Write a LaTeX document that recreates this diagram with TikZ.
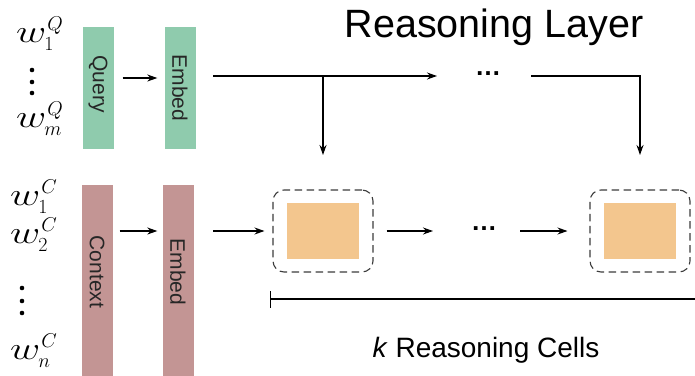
\RequirePackage{fix-cm}
\documentclass[tikz,border=0pt]{standalone}
\usepackage{fontspec}
\usepackage{graphicx}
\setmainfont{Liberation Sans}
\usetikzlibrary{arrows.meta}
\definecolor{qgreen}{HTML}{8FCBAD}
\definecolor{crose}{HTML}{C39594}
\definecolor{cellorange}{HTML}{F3C68E}
\definecolor{boxgray}{HTML}{3C3C3C}
% word symbol with stacked sub- and superscript
\newcommand\wlab[2]{%
  {\fontsize{32}{32}\selectfont\scalebox{1.3}[1]{$w$}}%
  \rlap{\smash{\raisebox{12pt}{\fontsize{20}{20}\selectfont\kern1pt$#2$}}}%
  \smash{\raisebox{-8pt}{\fontsize{20}{20}\selectfont\kern-2pt$#1$}}}
\begin{document}
\begin{tikzpicture}[x=1pt,y=-1pt,
  arr/.style={line width=1.1pt, -{Stealth[length=10pt,width=7pt]}},
  plain/.style={line width=1.1pt},
  vbar/.style={inner sep=0pt, minimum width=31pt},
  bartext/.style={rotate=-90, font=\fontsize{21}{21}\selectfont, text=black!85},
  cellbox/.style={draw=boxgray, line width=1.1pt, dashed, dash pattern=on 7.5pt off 4.5pt,
    rounded corners=11pt, minimum width=100pt, minimum height=82pt, inner sep=0pt},
  cellcore/.style={fill=cellorange, minimum width=72pt, minimum height=56pt, inner sep=0pt},
  wlabel/.style={anchor=base west, inner sep=0pt},
  ellip/.style={inner sep=0pt, font=\fontsize{26}{26}\selectfont\bfseries},
  vdot/.style={radius=2.3pt}]
\useasboundingbox (0,0) rectangle (695,375);

% query branch: input bar and its embedding
\node[vbar, fill=qgreen, minimum height=122pt] (query) at (98,88) {};
\node[bartext] (querytxt) at (98,84) {Query};
\node[vbar, fill=qgreen, minimum height=122pt] (qembed) at (180,88) {};
\node[bartext] (qembedtxt) at (180,88) {Embed};

% context branch: bars run past the lower edge
\node[vbar, fill=crose, minimum height=200pt] (context) at (97,285) {};
\node[bartext] (contexttxt) at (97,272) {Context};
\node[vbar, fill=crose, minimum height=200pt] (cembed) at (178,285) {};
\node[bartext] (cembedtxt) at (178,272) {Embed};

% word labels
\node[wlabel] (wq1) at (16,42) {\wlab{1}{Q}};
\node[wlabel] (wqm) at (16,127) {\wlab{m}{Q}};
\fill[vdot] (32,70) circle; \fill[vdot] (32,82) circle; \fill[vdot] (32,93) circle;

\node[wlabel] (wc1) at (10,205) {\wlab{1}{C}};
\node[wlabel] (wc2) at (10,243) {\wlab{2}{C}};
\node[wlabel] (wcn) at (10,359) {\wlab{n}{C}};
\fill[vdot] (22,288) circle; \fill[vdot] (22,301) circle; \fill[vdot] (22,313) circle;

% reasoning cells
\node[cellbox] (cell1) at (323,231) {};
\node[cellcore] (core1) at (cell1) {};
\node[cellbox] (cell2) at (640,231) {};
\node[cellcore] (core2) at (cell2) {};
\node[ellip] (bdots) at (484,229) {…};

% titles
\node[anchor=base, inner sep=0pt, font=\fontsize{39.5}{39.5}\selectfont] (title) at (494,37) {Reasoning Layer};
\node[anchor=base, inner sep=0pt, font=\fontsize{28}{28}\selectfont] (cells) at (486,357) {\textit{k} Reasoning Cells};

% query flow
\draw[arr, shorten <=9pt, shorten >=7pt] (query.east |- 0,78) -- (qembed.west |- 0,78);
\coordinate (qs) at (213,76);
\coordinate (qe) at (437,76);
\node[ellip] (qdots) at (488,74) {…};
\coordinate (q2) at (531,76);
\coordinate (c1in) at (323,155);
\coordinate (c2in) at (640,155);
\draw[arr] (qs) -- (qe);
\draw[arr] (qs -| c1in) -- (c1in);
\draw[arr] (q2) -| (c2in);

% context flow
\draw[arr, shorten <=7pt, shorten >=5pt] (context.east |- 0,231) -- (cembed.west |- 0,231);
\coordinate (cs) at (213,231);
\draw[arr, shorten >=8pt] (cs) -- (cell1.west);
\draw[arr, shorten <=13pt] (cell1.east) -- (433,231) coordinate (a1);
\coordinate (a2) at (520,231);
\draw[arr, shorten >=22pt] (a2) -- (cell2.west);

% span of the reasoning cells
\coordinate (spanl) at (270,299);
\coordinate (spanr) at (700,299);
\draw[plain, {Bar[width=17pt]}-] (spanl) -- (spanr);
\end{tikzpicture}
\end{document}
